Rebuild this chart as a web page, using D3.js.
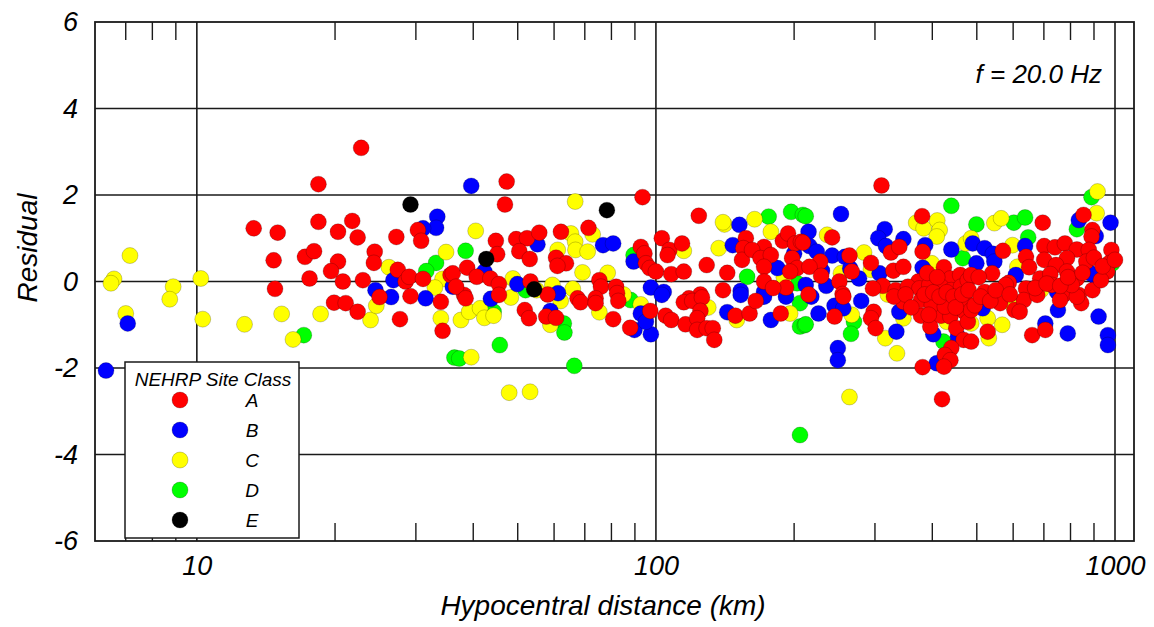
<!DOCTYPE html>
<html>
<head>
<meta charset="utf-8">
<script src="https://cdn.jsdelivr.net/npm/d3@7"></script>
<style>
  html, body { margin: 0; padding: 0; background: #fff; }
  svg { display: block; }
  text { font-family: "Liberation Sans", Arial, sans-serif; font-style: italic; fill: #000; }
</style>
</head>
<body>
<svg id="chart" width="1154" height="627"></svg>
<script>
// ---- Data: [hypocentral distance (km), residual] per NEHRP site class ----
const classA = [
  [22.8,3.09],[18.4,2.25],[13.3,1.23],[15.0,1.13],[18.4,1.38],[21.8,1.40],[20.3,1.15],[22.4,1.02],[27.2,1.03],[30.3,1.19],[30.8,0.94],
  [14.7,0.49],[17.2,0.57],[18.0,0.70],[20.3,0.46],[19.6,0.24],[24.4,0.69],[24.3,0.43],[17.6,0.07],[20.8,0.0],[23.0,0.03],[27.4,0.27],
  [28.5,0.0],[29.0,0.11],[31.1,0.06],[35.7,0.15],[14.8,-0.17],[19.9,-0.49],[21.1,-0.50],[22.4,-0.70],[25.0,-0.36],[29.2,-0.34],
  [34.0,-0.47],[27.7,-0.87],[34.3,-1.14],
  [47.3,2.31],[46.9,1.78],[93.5,1.95],[124,1.52],[44.8,0.94],[45.1,0.63],[49.6,0.98],[52.4,1.0],[55.7,1.13],[50.4,0.70],[53.1,0.52],
  [62.1,1.15],[71.3,1.24],[60.6,0.55],[63.7,0.42],[61.0,0.36],[92.7,0.80],[94.4,0.65],[95.1,0.42],[96.9,0.31],[100,0.23],[36.1,0.19],
  [38.8,0.32],[40.7,0.11],[43.6,0.07],[45.5,-0.06],[53.3,0.0],[58.1,-0.30],[75.3,0.03],[75.9,-0.12],[81.9,-0.12],[67.5,-0.39],
  [73.9,-0.39],[82.3,-0.27],[38.2,-0.31],[45.5,-0.31],[103,1.0],[107,0.73],[114,0.88],[106,0.61],[108,0.17],[115,0.23],[129,0.38],
  [143,0.20],[157,1.0],[155,0.77],[154,0.50],[172,0.80],[162,0.73],[169,0.54],[178,0.61],[172,0.34],[189,0.94],[194,1.11],[201,0.88],
  [207,0.92],[198,0.54],[203,0.31],[196,0.23],[172,0.0],[192,-0.14],[125,-0.30],[118,-0.39],[36.7,-0.12],
  [38.5,-0.39],[51.8,-0.66],[52.9,-0.85],[57.7,-0.81],[60.6,-0.84],[68.5,-0.48],[73.9,-0.50],[80.7,-0.87],[82.8,-0.45],[97.2,-0.68],
  [87.9,-1.07],[105,-0.79],[108,-0.89],[116,-0.99],[115,-0.48],[120,-0.45],[126,-0.37],[125,-0.68],[123,-0.85],[123,-1.12],[129,-1.08],
  [133,-1.08],[134,-1.35],[149,-0.79],[160,-0.74],[187,-0.74],
  [310,2.22],[380,1.51],[242,1.02],[209,0.90],[264,0.60],[294,0.43],[325,0.67],[339,0.80],[381,0.69],[228,0.46],[216,0.34],[229,0.13],
  [267,0.23],[251,0.0],[329,0.25],[346,0.34],[424,0.33],[438,0.07],[460,0.15],[312,-0.10],[333,-0.20],[373,0.0],[255,-0.29],[297,-0.16],
  [354,-0.12],[375,-0.16],[394,-0.08],[418,-0.12],[440,-0.2],[462,-0.12],[478,0.03],
  [245,-0.81],[298,-0.70],[294,-0.85],[301,-1.08],[346,-0.47],[378,-0.79],[396,-1.04],[406,-0.47],[433,-0.43],[418,-0.79],[438,-0.81],
  [451,-1.08],[468,-1.35],[440,-1.54],[426,-1.70],[438,-1.82],[424,-1.97],[381,-1.98],[420,-2.72],[256,-0.35],[330,-0.35],[378,-0.43],
  [399,-0.54],[393,-0.77],[426,-0.58],[455,-0.5],[470,-0.70],[478,-0.93],[473,-0.47],
  [854,1.54],[696,1.36],[893,1.19],[889,1.04],[570,0.71],[701,0.82],[740,0.79],[778,0.88],[826,0.74],[877,0.73],[982,0.73],[640,0.57],
  [701,0.50],[786,0.54],[866,0.46],[970,0.42],[650,0.33],[744,0.38],[786,0.23],[826,0.07],[961,0.23],[540,0.19],[486,0.15],[687,0.07],
  [723,0.17],[587,-0.03],[640,-0.16],[520,-0.24],[834,-0.31],[772,-0.31],
  [660,-1.24],[705,-1.12],[528,-1.16],[486,-1.39],[486,-0.66],[562,-0.50],[604,-0.66],[759,-0.43],[844,-0.50],[826,-0.35],[633,-0.43],
  [578,-0.08],[677,-0.31],[729,-0.08],[805,-0.08],[893,-0.2],[932,0.03],
  [350,-0.3],[360,-0.6],[385,-0.3],[390,0.2],[402,-0.25],[410,0.1],[415,-0.35],[430,-0.25],[445,-0.35],
  [450,-0.6],[465,-0.3],[480,-0.2],[495,-0.55],[505,0.1],[510,-0.35],[535,-0.45],[550,-0.2],
  [590,-0.3],[620,-0.7],[670,-0.15],[710,-0.05],[760,-0.1],[790,0.1],[850,0.2],[900,0.55],[940,0.35],[1000,0.5],
  [140,-0.2],[165,-0.45],[180,-0.15],[215,-0.3]
];
const classB = [
  [33.4,1.50],[33.2,1.24],[31.1,1.23],[26.8,0.03],[24.5,-0.20],[26.5,-0.36],[31.5,-0.39],[36.1,-0.12],[7.07,-0.97],[6.34,-2.06],
  [39.6,2.21],[55.2,0.86],[76.7,0.84],[80.7,0.88],[89.4,0.46],[42.3,0.23],[49.9,-0.06],[61.2,-0.27],[97.5,-0.14],[104,-0.24],[152,1.31],
  [147,0.84],[184,0.31],[153,-0.22],[172,-0.24],
  [43.7,-0.40],[58.9,-0.68],[92.7,-0.74],[89.8,-1.12],[97.5,-1.22],[95.1,-0.93],[143,-0.71],[178,-0.89],[103,-0.31],[153,-0.31],[172,-0.35],[192,-0.35],
  [253,1.56],[215,1.15],[315,1.21],[305,1.0],[317,0.82],[216,0.82],[224,0.69],[242,0.60],[258,0.57],[346,0.98],[386,0.84],[440,0.74],
  [212,-0.08],[277,0.07],[381,0.32],[307,0.19],
  [218,-0.35],[226,-0.74],[245,-0.56],[256,-0.62],[249,-1.54],[249,-1.82],[334,-1.16],[339,-0.70],[402,-1.22],[409,-1.89],[455,-1.28],
  [834,1.42],[978,1.36],[908,1.05],[490,0.88],[520,0.77],[542,0.64],[637,0.82],[546,0.46],[499,0.42],[908,0.11],[884,0.19],[608,0.15],[748,-0.24],
  [921,-0.81],[965,-1.24],[965,-1.47],[789,-1.20],[705,-0.97],[515,-0.62],[751,-0.66],
  [230,0.25],[265,0.3],[200,0.65],[235,-0.1],[280,-0.45]
];
const classC = [
  [7.15,0.60],[6.6,0.06],[6.5,-0.04],[8.88,-0.12],[8.73,-0.41],[10.2,0.07],[7.0,-0.74],[10.3,-0.87],[12.7,-0.99],[15.3,-0.75],[18.6,-0.75],
  [16.2,-1.34],[23.9,-0.89],[24.6,-0.56],[26.2,0.33],[34.9,0.68],[34.3,0.06],[33.0,-0.14],[34.0,-0.85],
  [66.7,1.85],[40.5,1.17],[65.3,1.11],[66.7,0.92],[66.8,0.73],[72.8,1.09],[71.0,0.69],[61.1,0.73],[69.2,0.21],[78.5,0.20],[48.8,0.07],
  [59.5,-0.08],[65.9,-0.17],[115,0.71],[137,0.77],[141,1.32],[140,1.37],[164,1.44],[178,1.15],
  [37.6,-0.89],[39.2,-0.70],[41.4,-0.62],[42.3,-0.84],[44.3,-0.79],[48.3,-0.37],[39.6,-1.75],[47.9,-2.57],[53.2,-2.55],[58.9,-1.0],
  [75.3,-0.71],[92.7,-0.53],[150,-0.89],[196,-0.74],
  [369,1.36],[383,1.23],[410,1.41],[415,1.19],[409,1.04],[236,1.08],[284,0.67],[473,0.88],[253,0.19],[399,0.42],[294,0.27],
  [267,-0.77],[264,-2.67],[316,-1.31],[346,-0.85],[335,-1.66],[430,-0.93],
  [916,2.08],[912,1.58],[546,1.35],[565,1.46],[486,1.0],[598,0.84],[613,0.34],[690,-0.20],
  [568,-1.0],[531,-1.31],[486,-0.97],[528,-0.85],
  [55,-0.2],[62,-0.45],[85,-0.3],[130,-0.6],[190,0.1],[320,-0.3],[440,-0.6],[600,-0.55]
];
const classD = [
  [17.1,-1.24],[33.2,0.43],[31.6,0.24],[36.4,-1.76],[38.5,0.71],[89.4,0.61],[176,1.50],[197,1.61],[209,1.54],[158,0.11],[203,-0.04],
  [44.3,-0.70],[45.7,-1.47],[37.3,-1.78],[63.0,-0.97],[63.2,-1.18],[66.4,-1.95],[88.1,-0.43],[206,-1.04],[211,-1.01],[206,-3.55],[206,-0.5],
  [212,1.51],[440,1.75],[466,0.54],[212,-0.99],[270,-0.93],[266,-1.21],[423,-1.39],[889,1.95],[499,1.32],[602,1.36],[637,1.48],[826,1.21],
  [647,1.02],[987,0.42],[52,-0.2]
];
const classE = [[29.2,1.78],[78.2,1.65],[42.7,0.52],[54.3,-0.18]];

const classNames = ["A","B","C","D","E"];
const classColors = ["#ff0000","#0000ff","#ffff00","#00ff00","#000000"];
const xTickValues = [10,100,1000];
const xMinorTicks = [7,8,9,20,30,40,50,60,70,80,90,200,300,400,500,600,700,800,900];
const yTickValues = [-6,-4,-2,0,2,4,6];
const xDomain = [6,1100];
const yDomain = [-6,6];

// ---- Layout ----
const svg = d3.select("#chart");
const L = 95, R = 1134, T = 22, B = 541;
const x = d3.scaleLog().domain(xDomain).range([L, R]);
const y = d3.scaleLinear().domain(yDomain).range([B, T]);

// grid
const grid = svg.append("g").attr("stroke", "#1a1a1a").attr("stroke-width", 1.6);
grid.selectAll("line.v").data(xTickValues).join("line")
  .attr("x1", d => x(d)).attr("x2", d => x(d)).attr("y1", T).attr("y2", B);
grid.selectAll("line.h").data(yTickValues.filter(v => v > yDomain[0] && v < yDomain[1])).join("line")
  .attr("x1", L).attr("x2", R).attr("y1", d => y(d)).attr("y2", d => y(d));

// minor ticks top & bottom (inward)
const mt = svg.append("g").attr("stroke", "#1a1a1a").attr("stroke-width", 1.4);
mt.selectAll("line.t").data(xMinorTicks).join("line")
  .attr("x1", d => x(d)).attr("x2", d => x(d)).attr("y1", T).attr("y2", T + 18);
mt.selectAll("line.b").data(xMinorTicks).join("line")
  .attr("x1", d => x(d)).attr("x2", d => x(d)).attr("y1", B).attr("y2", B - 18);

// points
const series = [classD, classC, classB, classA, classE];
const seriesColor = [classColors[3], classColors[2], classColors[1], classColors[0], classColors[4]];
const pts = svg.append("g");
series.forEach((s, i) => {
  pts.append("g").selectAll("circle").data(s).join("circle")
    .attr("cx", d => x(d[0])).attr("cy", d => y(d[1])).attr("r", 8)
    .attr("fill", seriesColor[i])
    .attr("stroke", "rgba(0,0,0,0.3)").attr("stroke-width", 0.7);
});

// frame
svg.append("rect").attr("x", L).attr("y", T).attr("width", R - L).attr("height", B - T)
  .attr("fill", "none").attr("stroke", "#1a1a1a").attr("stroke-width", 1.8);

// axes labels
const xAxis = d3.axisBottom(x).tickValues(xTickValues).tickFormat(d => String(d)).tickSize(0).tickPadding(15);
const gx = svg.append("g").attr("transform", `translate(0,${B})`).call(xAxis);
gx.select(".domain").remove();
gx.selectAll("text").style("font-size", "27px").style("font-family", "'Liberation Sans', Arial, sans-serif").style("font-style", "italic");

const yAxis = d3.axisLeft(y).tickValues(yTickValues).tickFormat(d => String(d)).tickSize(0).tickPadding(17);
const gy = svg.append("g").attr("transform", `translate(${L},0)`).call(yAxis);
gy.select(".domain").remove();
gy.selectAll("text").style("font-size", "27px").style("font-family", "'Liberation Sans', Arial, sans-serif").style("font-style", "italic");

svg.append("text").attr("x", 603).attr("y", 615).attr("text-anchor", "middle")
  .style("font-size", "28px").text("Hypocentral distance (km)");
svg.append("text").attr("transform", "translate(37,248) rotate(-90)").attr("text-anchor", "middle")
  .style("font-size", "28px").text("Residual");

svg.append("text").attr("x", 1102).attr("y", 83).attr("text-anchor", "end")
  .style("font-size", "26px").text("f = 20.0 Hz");

// legend
const lg = svg.append("g");
lg.append("rect").attr("x", 125).attr("y", 362).attr("width", 174).attr("height", 176)
  .attr("fill", "#fff").attr("stroke", "#1a1a1a").attr("stroke-width", 1.5);
lg.append("text").attr("x", 213).attr("y", 386).attr("text-anchor", "middle")
  .style("font-size", "19px").text("NEHRP Site Class");
classNames.forEach((n, i) => {
  const cy = 400 + i * 30;
  lg.append("circle").attr("cx", 180).attr("cy", cy).attr("r", 8)
    .attr("fill", classColors[i]).attr("stroke", "rgba(0,0,0,0.3)").attr("stroke-width", 0.7);
  lg.append("text").attr("x", 252).attr("y", cy + 7).attr("text-anchor", "middle")
    .style("font-size", "19px").text(n);
});
</script>
</body>
</html>
